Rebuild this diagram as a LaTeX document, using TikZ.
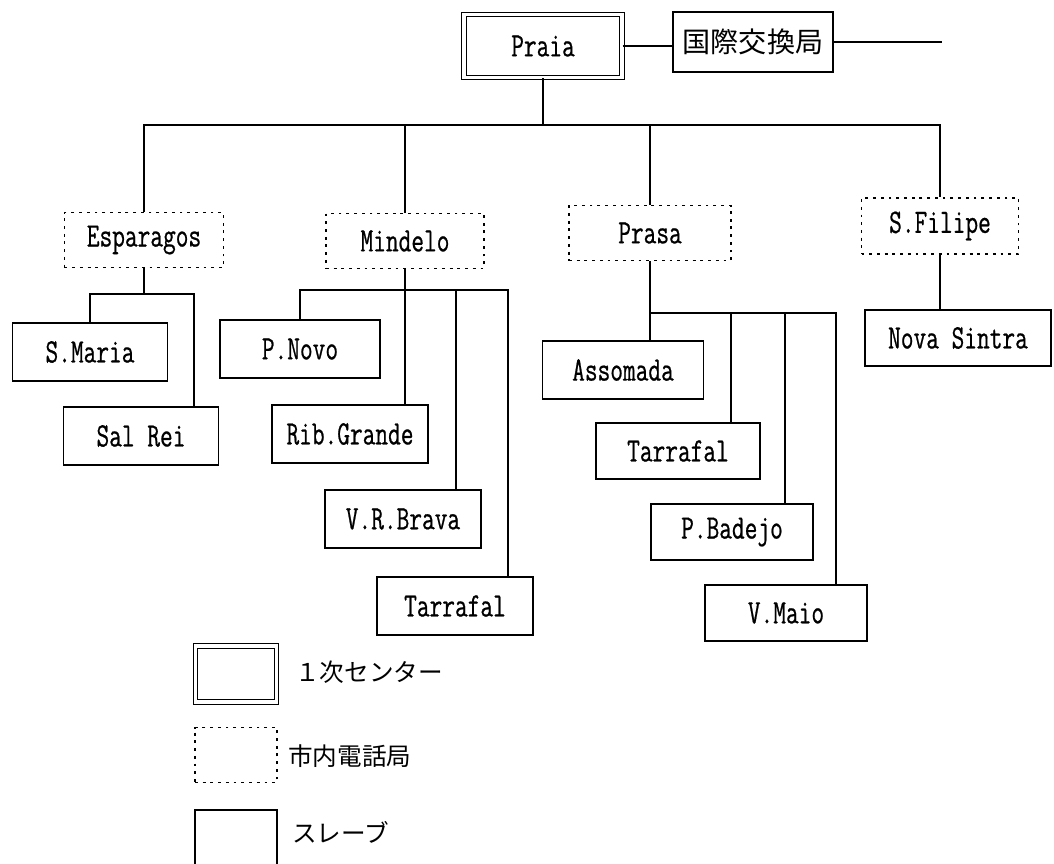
\documentclass[tikz,border=0pt]{standalone}
\usepackage{fontspec}
\newfontfamily\latf[FakeStretch=0.72,FakeBold=0.6]{Latin Modern Mono}
\newfontfamily\jpf{Noto Sans CJK JP}
\begin{document}
\begin{tikzpicture}[x=0.02cm,y=-0.02cm,
  every node/.style={inner sep=0pt, font=\latf\fontsize{19.5}{23}\selectfont},
  sz/.style 2 args={minimum width=#1*0.02cm, minimum height=#2*0.02cm},
  primary/.style={draw, line width=0.6pt, double, double distance=1.8pt},
  local/.style={draw, line width=1pt, dash pattern=on 1.6pt off 2.8pt},
  slave/.style={draw, line width=0.9pt},
  conn/.style={line width=0.9pt},
  jp/.style={font=\jpf\fontsize{16}{19}\selectfont},
  legend/.style={anchor=west, font=\jpf\fontsize{14}{17}\selectfont}]
\useasboundingbox (0,0) rectangle (1054,863);
\clip (0,0) rectangle (1054,863);

% top
\node[primary, sz={158}{63}] (praia) at (543,46) {Praia};
\node[slave, jp, sz={160}{60}] (intl) at (753,42) {国際交換局};
\coordinate (ext) at (942,42);
\draw[conn] (praia.east) -- (praia.east -| intl.west);
\draw[conn] (intl.east) -- (ext);

% level 2
\node[local, sz={159}{55}] (esp) at (144,240) {Esparagos};
\node[local, sz={158}{55}] (mind) at (405,241) {Mindelo};
\node[local, sz={162}{55}] (prasa) at (650,233) {Prasa};
\node[local, sz={157}{56}] (sfil) at (940,226) {S.Filipe};

\coordinate (bus) at (0,125);
\draw[conn] (esp.north) -- (esp.north |- bus) -- (sfil.north |- bus) -- (sfil.north);
\draw[conn] (mind.north) -- (mind.north |- bus);
\draw[conn] (prasa.north) -- (prasa.north |- bus);
\draw[conn] (praia.south) -- (praia.south |- bus);

% Esparagos group
\node[slave, sz={155}{58}] (smaria) at (90,352) {S.Maria};
\node[slave, sz={155}{58}] (salrei) at (141,436) {Sal Rei};
\coordinate (eb) at (0,294);
\coordinate (ebr) at (194,294);
\draw[conn] (esp.south) -- (esp.south |- eb);
\draw[conn] (smaria.north) -- (smaria.north |- eb) -- (ebr) -- (ebr |- salrei.north);

% Mindelo group
\node[slave, sz={160}{58}] (pnovo) at (300,349) {P.Novo};
\node[slave, sz={156}{58}] (ribg) at (350,434) {Rib.Grande};
\node[slave, sz={156}{58}] (vrb) at (403,519) {V.R.Brava};
\node[slave, sz={156}{58}] (tarm) at (455,606) {Tarrafal};
\coordinate (mb) at (0,290);
\coordinate (mbv) at (456,290);
\coordinate (mbt) at (508,290);
\draw[conn] (mind.south) -- (mind.south |- ribg.north);
\draw[conn] (pnovo.north) -- (pnovo.north |- mb) -- (mbt) -- (mbt |- tarm.north);
\draw[conn] (mbv) -- (mbv |- vrb.north);

% Prasa group
\node[slave, sz={161}{58}] (asso) at (623,370) {Assomada};
\node[slave, sz={164}{56}] (tarp) at (678,451) {Tarrafal};
\node[slave, sz={162}{56}] (pbad) at (732,532) {P.Badejo};
\node[slave, sz={162}{56}] (vmaio) at (786,613) {V.Maio};
\coordinate (pt) at (731,313);
\coordinate (pp) at (785,313);
\coordinate (pv) at (836,313);
\draw[conn] (prasa.south) -- (prasa.south |- asso.north);
\draw[conn] (prasa.south |- pv) -- (pv) -- (pv |- vmaio.north);
\draw[conn] (pt) -- (pt |- tarp.north);
\draw[conn] (pp) -- (pp |- pbad.north);

% S.Filipe group
\node[slave, sz={186}{56}] (nova) at (958,338) {Nova Sintra};
\draw[conn] (sfil.south) -- (sfil.south |- nova.north);

% legend
\node[primary, sz={81}{56}] (lg1) at (236,674) {};
\node[legend] (lt1) at (295,672) {１次センター};
\node[local, sz={82}{55}] (lg2) at (236,755) {};
\node[legend] (lt2) at (288,756) {市内電話局};
\node[slave, sz={82}{80}] (lg3) at (236,850) {};
\node[legend] (lt3) at (292,832) {スレーブ};
\end{tikzpicture}
\end{document}
